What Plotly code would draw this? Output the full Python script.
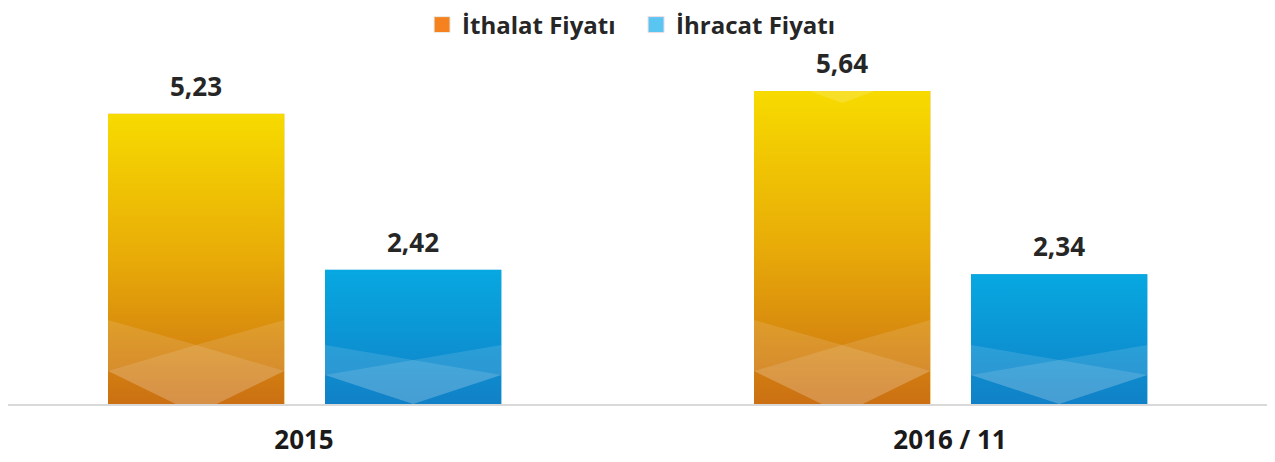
import base64
import plotly.graph_objects as go

categories = ["2015", "2016 / 11"]
ithalat = [5.23, 5.64]
ihracat = [2.42, 2.34]
series_names = ["İthalat Fiyatı", "İhracat Fiyatı"]

# layout constants (page has an 8px body margin)
W_PX, H_PX = 1267, 454
M_L, M_R, M_T, M_B = 0, 0, 52, 58
X_RANGE = [-0.4582, 1.5031]
Y_RANGE = [0, 6.2]
BAR_W = 0.273
OFFSETS = [-0.3034, 0.0325]
LEGEND_COLORS = ["#F5821F", "#5BC5F2"]
LEGEND_X = [0.3268, 0.4957]

plot_w = W_PX - M_L - M_R
plot_h = H_PX - M_T - M_B
px_x = plot_w / (X_RANGE[1] - X_RANGE[0])
px_y = plot_h / (Y_RANGE[1] - Y_RANGE[0])


def pts(p):
    return " ".join(f"{x:.2f},{y:.2f}" for x, y in p)


def bar_svg(kind, w, h):
    if kind == 0:
        stops = [(0, "#F7DB00"), (0.5, "#E8AB08"), (1, "#CB7013")]
        u1, uc, l1, lb = 84, 59, 33, -10
    else:
        stops = [(0, "#07A8E1"), (1, "#1181C7")]
        u1, uc, l1, lb = 59, 44, 29, 0
    c = w / 2
    layer1 = [(0, h - u1), (c, h - uc), (w, h - u1), (w, h - l1), (c, h - lb), (0, h - l1)]
    layer2 = [(0, h - l1), (c, h - uc), (w, h - l1), (c, h - lb)]
    st = "".join(f'<stop offset="{o}" stop-color="{col}"/>' for o, col in stops)
    extra = ""
    if kind == 0:
        tri = [(c - 120, h - 345), (c + 120, h - 345), (c, h - 301)]
        extra = f'<polygon points="{pts(tri)}" fill="#ffffff" fill-opacity="0.16"/>'
    svg = (
        f'<svg xmlns="http://www.w3.org/2000/svg" width="{w:.2f}" height="{h:.2f}" '
        f'viewBox="0 0 {w:.2f} {h:.2f}" preserveAspectRatio="none">'
        f'<defs><linearGradient id="g" x1="0" y1="0" x2="0" y2="1">{st}</linearGradient>'
        f'<clipPath id="c"><rect x="0" y="0" width="{w:.2f}" height="{h:.2f}"/></clipPath></defs>'
        f'<rect x="0" y="0" width="{w:.2f}" height="{h:.2f}" fill="url(#g)"/>'
        f'<g clip-path="url(#c)">'
        f'<polygon points="{pts(layer1)}" fill="#ffffff" fill-opacity="0.12"/>'
        f'<polygon points="{pts(layer2)}" fill="#ffffff" fill-opacity="0.12"/>'
        f'{extra}</g></svg>'
    )
    return "data:image/svg+xml;base64," + base64.b64encode(svg.encode()).decode()


xpos = list(range(len(categories)))
fig = go.Figure()
images = []
annotations = []
for s, vals in enumerate([ithalat, ihracat]):
    fig.add_trace(go.Bar(
        x=xpos, y=vals, name=series_names[s], width=BAR_W, offset=OFFSETS[s],
        marker=dict(color="#E8AB08" if s == 0 else "#0B96D6", line=dict(width=0)),
        hoverinfo="skip", showlegend=False,
    ))
    for i, v in enumerate(vals):
        left = xpos[i] + OFFSETS[s]
        images.append(dict(
            source=bar_svg(s, BAR_W * px_x, v * px_y),
            xref="x", yref="y", x=left, y=v, sizex=BAR_W, sizey=v,
            xanchor="left", yanchor="top", sizing="stretch", layer="above",
        ))
        annotations.append(dict(
            x=left + BAR_W / 2, y=v, xref="x", yref="y",
            text=f"{v:.2f}".replace(".", ","), showarrow=False,
            yanchor="bottom", yshift=8,
            font=dict(family="Open Sans", size=26, color="#262626", weight="bold"),
        ))

# legend entries, one legend box per series
legend_font = dict(family="Open Sans", size=24, color="#262626", weight="bold")
for s in range(2):
    fig.add_trace(go.Scatter(
        x=[None], y=[None], mode="markers", name=series_names[s],
        legend="legend" if s == 0 else "legend2",
        marker=dict(symbol="square", size=16, color=LEGEND_COLORS[s],
                    line=dict(width=1, color="#E8F0EC" if s == 0 else "#F3DDE0")),
        hoverinfo="skip",
    ))

leg_common = dict(orientation="h", xanchor="left", y=1 + 35 / plot_h, yanchor="middle",
                  font=legend_font, itemwidth=30, bgcolor="rgba(0,0,0,0)")

fig.update_layout(
    width=W_PX, height=H_PX,
    margin=dict(l=M_L, r=M_R, t=M_T, b=M_B, autoexpand=False),
    paper_bgcolor="white", plot_bgcolor="white",
    barmode="overlay",
    showlegend=True,
    legend=dict(x=LEGEND_X[0], **leg_common),
    legend2=dict(x=LEGEND_X[1], **leg_common),
    xaxis=dict(range=X_RANGE, tickvals=xpos, ticktext=categories, showgrid=False,
               zeroline=False, showline=True, linecolor="#D9D9D9", linewidth=2,
               ticks="", ticklabelstandoff=12,
               tickfont=dict(family="Open Sans", size=26, color="#1a1a1a", weight="bold"),
               fixedrange=True),
    yaxis=dict(range=Y_RANGE, showgrid=False, zeroline=False, showticklabels=False,
               showline=False, fixedrange=True),
    images=images,
    annotations=annotations,
)

fig.write_html("out.html")
